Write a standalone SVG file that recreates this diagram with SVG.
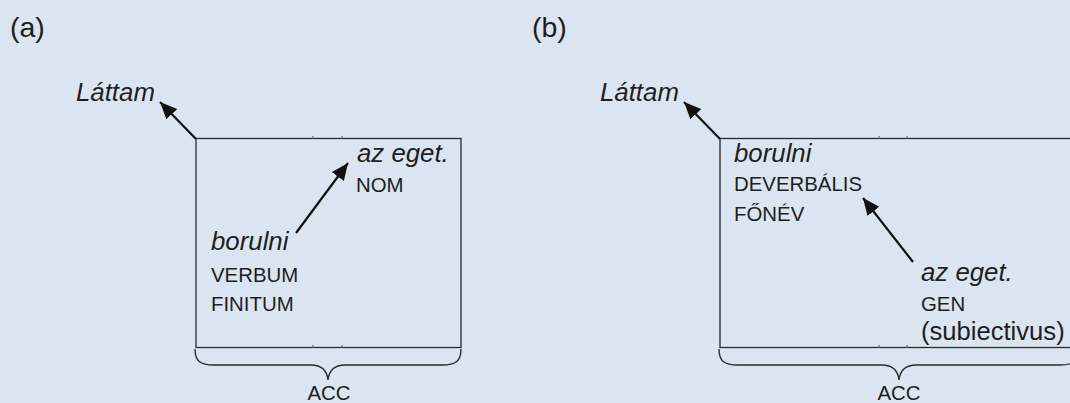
<svg xmlns="http://www.w3.org/2000/svg" width="1070" height="403" viewBox="0 0 1070 403">
<defs>
<style>
.bg{fill:#dbe5f1}
.box{fill:none;stroke:#2a2a2a;stroke-width:1.3}
.tick{stroke:#555;stroke-width:1}
.brace{fill:none;stroke:#2a2a2a;stroke-width:1.4}
.arr{stroke:#111;stroke-width:2.2;fill:none}
.it{font-family:"Liberation Sans",Arial,sans-serif;font-style:italic;font-size:25.8px;fill:#1e1e1e}
.cap{font-family:"Liberation Sans",Arial,sans-serif;font-size:20.4px;fill:#1e1e1e}
.big{font-family:"Liberation Sans",Arial,sans-serif;font-size:25.6px;fill:#1e1e1e}
.lbl{font-family:"Liberation Sans",Arial,sans-serif;font-size:28.5px;fill:#1e1e1e}
</style>
<marker id="ah" markerUnits="userSpaceOnUse" markerWidth="19" markerHeight="16" refX="17" refY="7.5" orient="auto">
<path d="M0,0 L17,7.5 L0,15 z" fill="#111"/>
</marker>
</defs>
<rect class="bg" x="0" y="0" width="1070" height="403"/>

<g id="panel-a">
<text class="lbl" x="10" y="37">(a)</text>
<g id="a-lattam"><text class="it" x="76" y="101">Láttam</text></g>
<g id="a-box">
<rect class="box" x="196" y="138.5" width="265" height="209"/>
<line class="tick" x1="313" y1="136" x2="313" y2="139"/>
<line class="tick" x1="342" y1="136" x2="342" y2="139"/>
<line class="tick" x1="313" y1="345" x2="313" y2="348"/>
<line class="tick" x1="342" y1="345" x2="342" y2="348"/>
</g>
<g id="a-azeget"><text class="it" x="357" y="162">az eget.</text><text class="cap" x="356" y="192">NOM</text></g>
<g id="a-borulni"><text class="it" x="211" y="250">borulni</text><text class="cap" x="211" y="282">VERBUM</text><text class="cap" x="211" y="311">FINITUM</text></g>
<g id="a-acc">
<path class="brace" d="M195,349 C195,361 200,365 214,365 L311,365 C322,365 327,371 328,380 C329,371 334,365 345,365 L442,365 C456,365 461,361 461,349"/>
<text class="cap" x="329" y="400" text-anchor="middle">ACC</text>
</g>
</g>

<g id="panel-b">
<text class="lbl" x="532" y="37">(b)</text>
<g id="b-lattam"><text class="it" x="600" y="101">Láttam</text></g>
<g id="b-box">
<rect class="box" x="720" y="138.5" width="360" height="209"/>
<line class="tick" x1="879" y1="136" x2="879" y2="139"/>
<line class="tick" x1="907" y1="136" x2="907" y2="139"/>
<line class="tick" x1="879" y1="345" x2="879" y2="348"/>
<line class="tick" x1="907" y1="345" x2="907" y2="348"/>
</g>
<g id="b-borulni"><text class="it" x="734" y="162">borulni</text><text class="cap" x="734" y="191">DEVERBÁLIS</text><text class="cap" x="734" y="221">FŐNÉV</text></g>
<g id="b-azeget"><text class="it" x="921" y="281">az eget.</text><text class="cap" x="921" y="311">GEN</text><text class="big" x="921" y="340">(subiectivus)</text></g>
<g id="b-acc">
<path class="brace" d="M719,349 C719,361 724,365 738,365 L882,365 C893,365 898,371 899,380 C900,371 905,365 916,365 L1060,365 C1074,365 1079,361 1079,349"/>
<text class="cap" x="899" y="400" text-anchor="middle">ACC</text>
</g>
</g>

<g id="connectors">
<line class="arr" x1="196" y1="139" x2="160" y2="102" marker-end="url(#ah)"/>
<line class="arr" x1="296" y1="233" x2="348" y2="163" marker-end="url(#ah)"/>
<line class="arr" x1="720" y1="139" x2="684" y2="102" marker-end="url(#ah)"/>
<line class="arr" x1="913" y1="262" x2="863" y2="198" marker-end="url(#ah)"/>
</g>
</svg>
